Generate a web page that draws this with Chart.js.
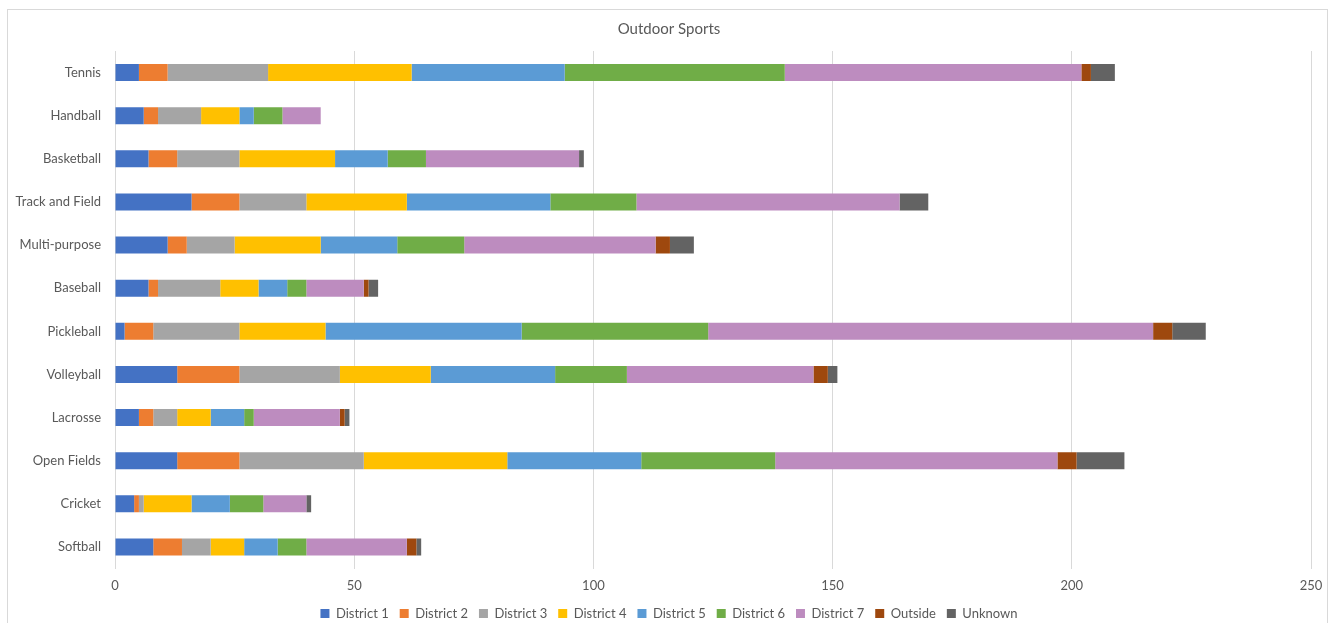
<!DOCTYPE html>
<html>
<head>
<meta charset="utf-8">
<script src="https://cdn.jsdelivr.net/npm/chart.js@4/dist/chart.umd.min.js"></script>
<style>
  html, body { margin: 0; padding: 0; background: #fff; overflow: hidden; }
  #wrap { position: relative; width: 1338px; height: 623px; overflow: hidden; }
</style>
</head>
<body>
<div id="wrap"><canvas id="chart" width="1338" height="630"></canvas></div>
<script>
const sports = ['Tennis', 'Handball', 'Basketball', 'Track and Field', 'Multi-purpose', 'Baseball',
  'Pickleball', 'Volleyball', 'Lacrosse', 'Open Fields', 'Cricket', 'Softball'];

const district1 = [5, 6, 7, 16, 11, 7, 2, 13, 5, 13, 4, 8];
const district2 = [6, 3, 6, 10, 4, 2, 6, 13, 3, 13, 1, 6];
const district3 = [21, 9, 13, 14, 10, 13, 18, 21, 5, 26, 1, 6];
const district4 = [30, 8, 20, 21, 18, 8, 18, 19, 7, 30, 10, 7];
const district5 = [32, 3, 11, 30, 16, 6, 41, 26, 7, 28, 8, 7];
const district6 = [46, 6, 8, 18, 14, 4, 39, 15, 2, 28, 7, 6];
const district7 = [62, 8, 32, 55, 40, 12, 93, 39, 18, 59, 9, 21];
const outside = [2, 0, 0, 0, 3, 1, 4, 3, 1, 4, 0, 2];
const unknown = [5, 0, 1, 6, 5, 2, 7, 2, 1, 10, 1, 1];

const xTicks = [0, 50, 100, 150, 200, 250];

const font = 'Lato, "Open Sans", sans-serif';
const textColor = '#595959';

// light frame round the whole chart; title and legend centred on the full width
const framePlugin = {
  id: 'frame',
  beforeDraw(chart) {
    if (chart.legend) chart.legend.left = 27;
    if (chart.titleBlock) chart.titleBlock.left = 27;
    const ctx = chart.ctx;
    ctx.save();
    ctx.fillStyle = '#fff';
    ctx.fillRect(0, 0, chart.width, chart.height);
    ctx.strokeStyle = '#D9D9D9';
    ctx.lineWidth = 1;
    ctx.strokeRect(7.5, 9.5, 1320, 640);
    ctx.restore();
  }
};

const series = [
  ['District 1', district1, '#4472C4'],
  ['District 2', district2, '#ED7D31'],
  ['District 3', district3, '#A5A5A5'],
  ['District 4', district4, '#FFC000'],
  ['District 5', district5, '#5B9BD5'],
  ['District 6', district6, '#70AD47'],
  ['District 7', district7, '#BD8CBF'],
  ['Outside', outside, '#9E480E'],
  ['Unknown', unknown, '#636363']
];

new Chart(document.getElementById('chart'), {
  type: 'bar',
  data: {
    labels: sports,
    datasets: series.map(([label, data, color]) => ({
      label, data,
      backgroundColor: color,
      borderWidth: 0,
      barPercentage: 0.8,
      categoryPercentage: 0.49
    }))
  },
  options: {
    indexAxis: 'y',
    responsive: false,
    animation: false,
    layout: { padding: { left: 0, right: 27, top: 0, bottom: 0 } },
    plugins: {
      title: {
        display: true,
        text: 'Outdoor Sports',
        color: textColor,
        font: { family: font, size: 15, weight: 'normal' },
        padding: { top: 20, bottom: 13 }
      },
      legend: {
        position: 'bottom',
        labels: {
          color: textColor,
          font: { family: font, size: 13 },
          boxWidth: 9,
          boxHeight: 9,
          padding: 11
        }
      },
      tooltip: { enabled: false }
    },
    scales: {
      x: {
        stacked: true,
        min: 0,
        max: 250,
        afterBuildTicks(scale) { scale.ticks = xTicks.map(v => ({ value: v })); },
        grid: { color: '#D9D9D9', drawTicks: false },
        border: { display: false },
        ticks: { color: textColor, font: { family: font, size: 13 }, padding: 10 },
        afterFit(scale) { scale.height = 27.5; }
      },
      y: {
        stacked: true,
        grid: { display: false, drawTicks: false },
        border: { display: false },
        ticks: { color: textColor, font: { family: font, size: 13 }, padding: 14 },
        afterFit(scale) { scale.width = 115; }
      }
    }
  },
  plugins: [framePlugin]
});
</script>
</body>
</html>
